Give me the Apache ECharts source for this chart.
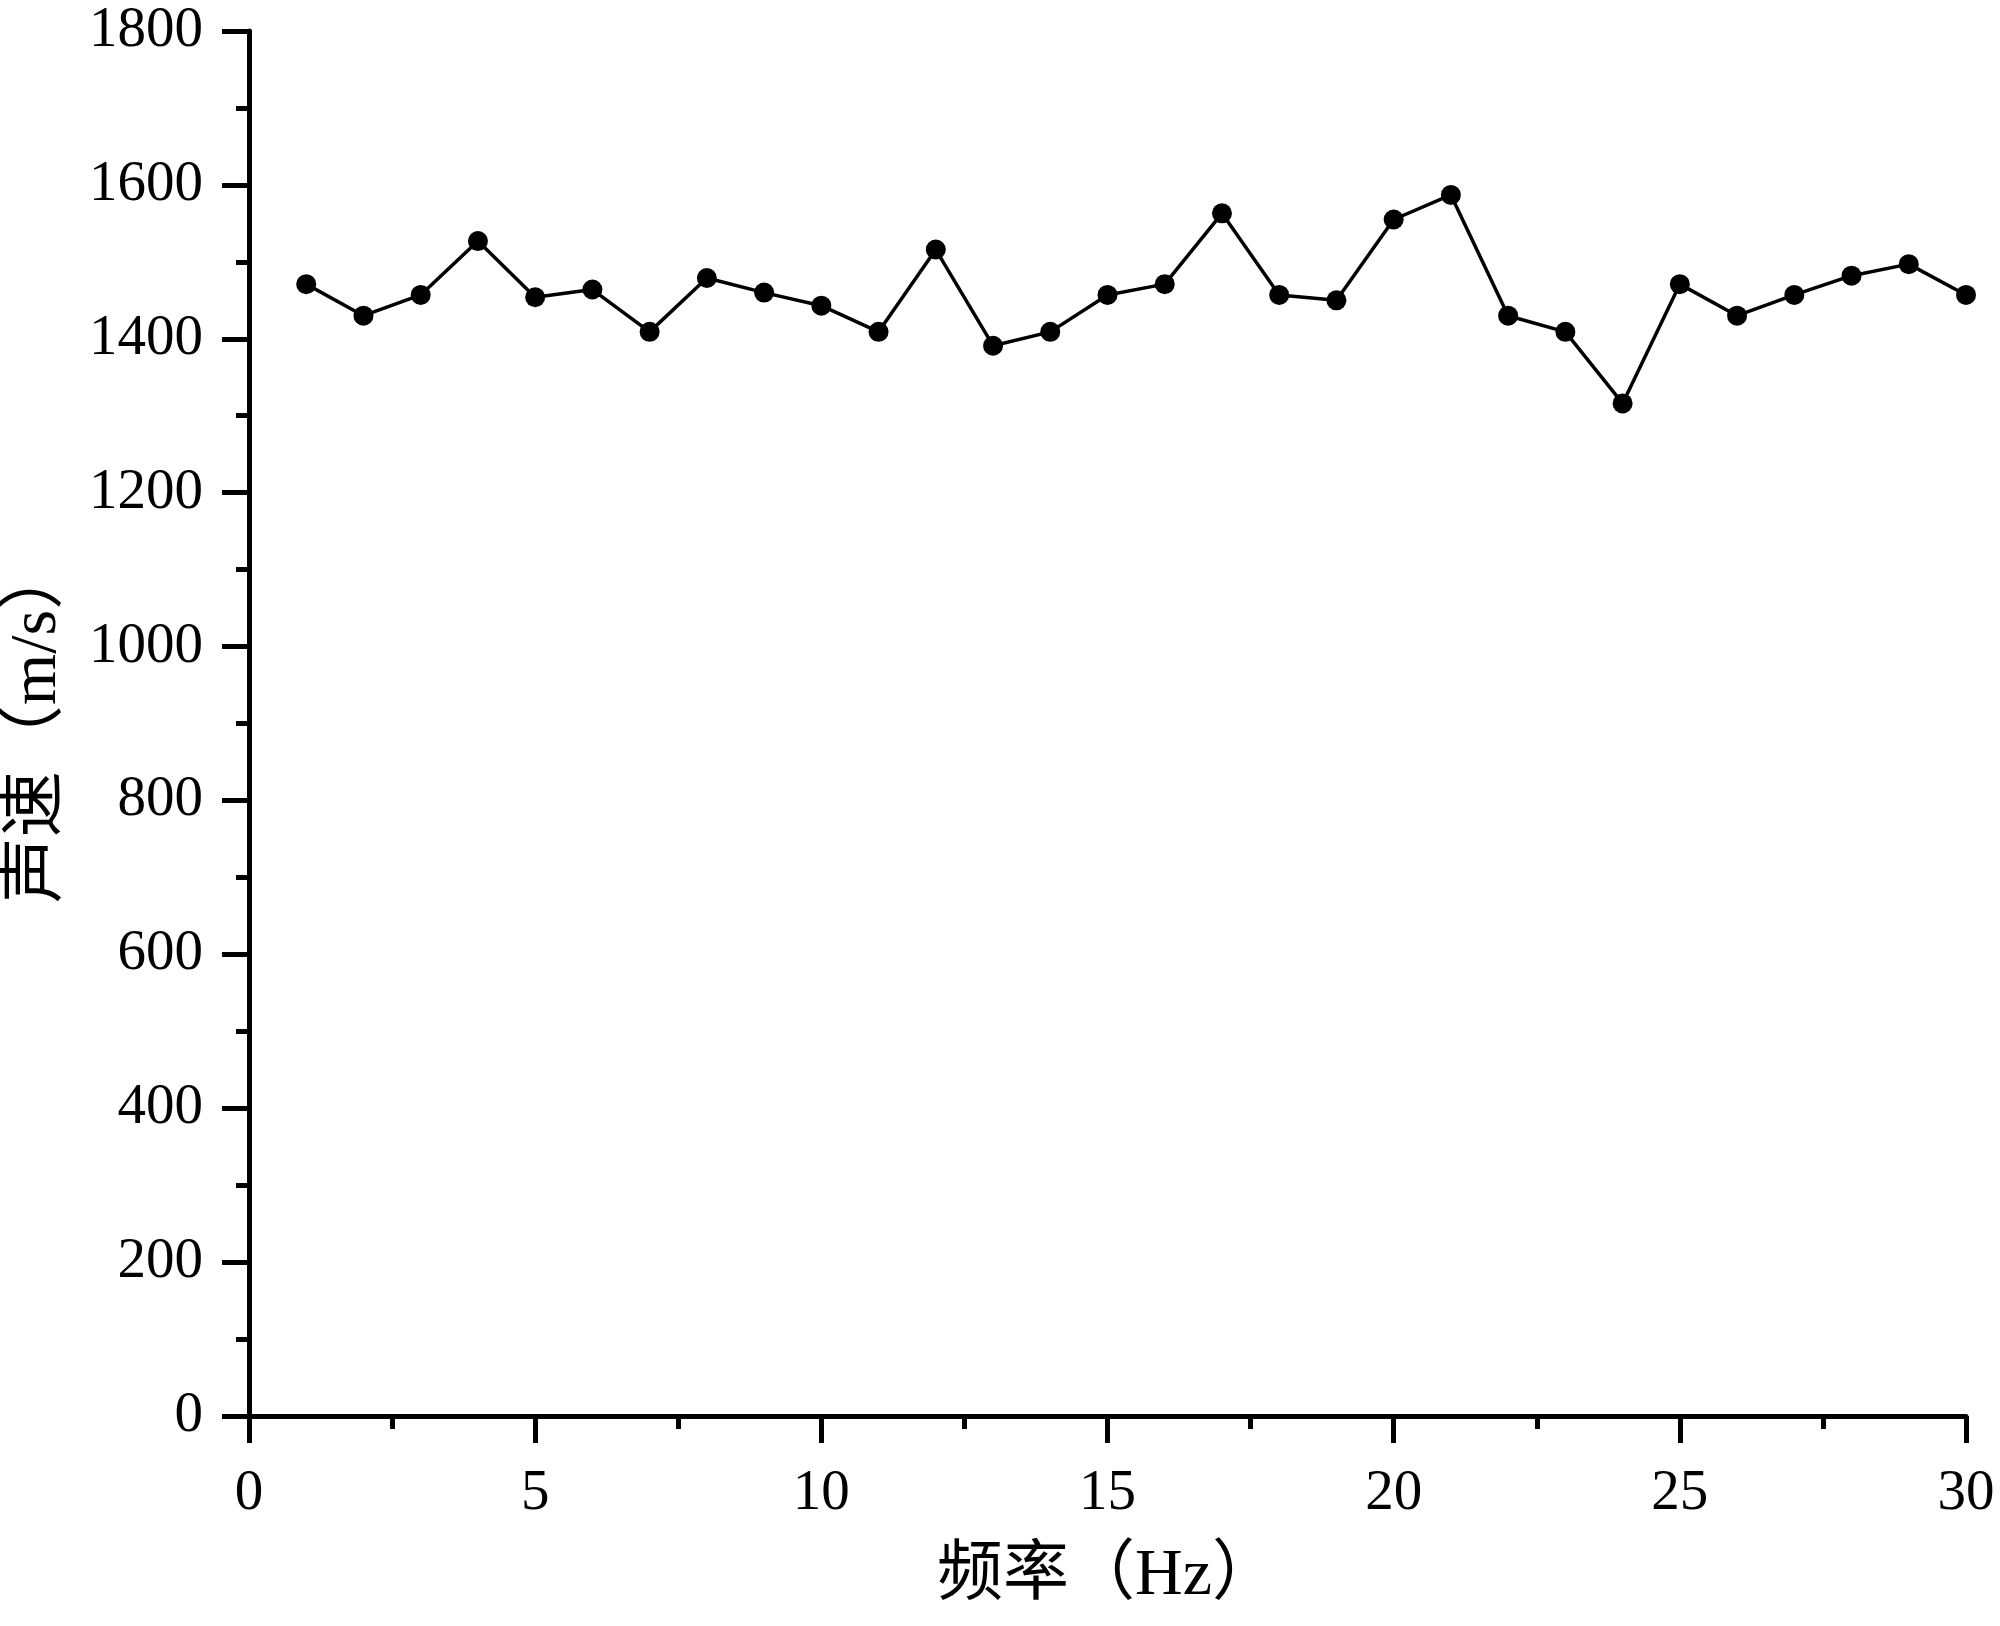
<!DOCTYPE html>
<html><head><meta charset="utf-8">
<script src="https://cdn.jsdelivr.net/npm/echarts@6/dist/echarts.min.js"></script>
<style>html,body{margin:0;padding:0;background:#fff}#c{width:2000px;height:1626px}</style>
</head><body><div id="c"></div>
<script>
const freq = [1,2,3,4,5,6,7,8,9,10,11,12,13,14,15,16,17,18,19,20,21,22,23,24,25,26,27,28,29,30];
const speed = [1471,1430,1457,1527,1454,1464,1409,1479,1460,1443,1409,1516,1391,1409,1457,1471,1563,1457,1450,1555,1587,1430,1409,1316,1471,1430,1457,1482,1497,1457];
const xName = '频率（Hz）';
const yName = '声速（m/s）';

const numFont = '"Liberation Serif", "Times New Roman", serif';
const nameFont = '"Liberation Serif", "Noto Sans CJK SC", serif';
const chart = echarts.init(document.getElementById('c'), null, {renderer:'canvas'});
const axisCommon = {
  axisLine:{show:true, lineStyle:{color:'#000', width:5}},
  axisTick:{show:true, inside:false, length:27, lineStyle:{color:'#000', width:5}},
  minorTick:{show:true, splitNumber:2, length:13, lineStyle:{color:'#000', width:5}},
  splitLine:{show:false},
  axisLabel:{color:'#000', fontFamily:numFont, fontSize:57, formatter:v=>String(v)},
  nameTextStyle:{color:'#000', fontFamily:nameFont, fontSize:66},
  nameLocation:'middle'
};
chart.setOption({
  animation:false,
  backgroundColor:'#fff',
  grid:{left:249, right:34, top:31, bottom:210, containLabel:false, outerBoundsMode:'none'},
  xAxis:Object.assign({}, axisCommon, {
    type:'value', min:0, max:30, interval:5, name:xName, nameGap:128,
    axisLabel:Object.assign({}, axisCommon.axisLabel, {margin:50})
  }),
  yAxis:Object.assign({}, axisCommon, {
    type:'value', min:0, max:1800, interval:200, name:yName, nameGap:178,
    axisLabel:Object.assign({}, axisCommon.axisLabel, {margin:46})
  }),
  series:[{
    type:'line',
    data:freq.map((f,i)=>[f, speed[i]]),
    symbol:'circle', symbolSize:20,
    itemStyle:{color:'#000'},
    lineStyle:{color:'#000', width:3.5},
    clip:true
  }]
});
</script></body></html>
